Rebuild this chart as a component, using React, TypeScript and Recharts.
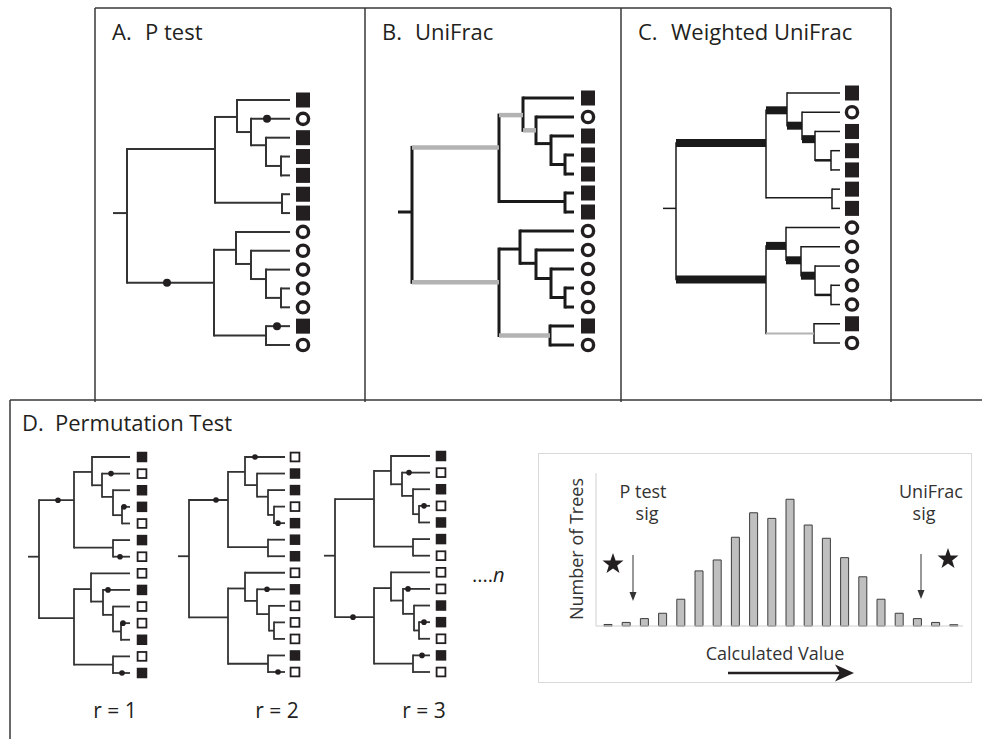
import React from "react";
import { Bar, BarChart, ComposedChart, ReferenceLine, Scatter, XAxis, YAxis } from "recharts";

const FONT = '"Open Sans", "Noto Sans", Arial, sans-serif';
const INK = "#231f20";
const LINE = "#333333";
const GRAY = "#b3b3b3";

// topology shared by every tree in the figure
const INTERNAL_NODES = ["root", "T", "S1", "S1a", "S1b", "S1c", "P1", "B", "S2", "S2a", "S2b", "S2c", "P2"];
const NODE_CHILDREN = [
  ["T", "B"], ["S1", "P1"], ["L0", "S1a"], ["L1", "S1b"], ["L2", "S1c"], ["L3", "L4"], ["L5", "L6"],
  ["S2", "P2"], ["L7", "S2a"], ["L8", "S2b"], ["L9", "S2c"], ["L10", "L11"], ["L12", "L13"],
];
// row of each internal node, in leaf units (leaf 0 on top)
const NODE_ROWS = [6.0, 2.6, 0.9, 1.7, 2.4, 3.5, 5.45, 9.7, 7.95, 8.7, 9.5, 10.5, 12.5];

// branch depths: stub start, the internal nodes in order, then the tips
const DEPTH_A = [-14, 0, 88, 110, 124, 139, 154, 155, 87, 109, 124, 139, 154, 139, 163];
const DEPTH_B = [-14, 0, 87, 111, 124, 139, 153, 153, 87, 108, 124, 139, 153, 138, 162];
const DEPTH_C = [-13, 0, 90, 111, 126, 139, 155, 156, 90, 110, 125, 139, 155, 138, 164];
const DEPTH_R1 = [-11, 0, 35, 53, 63, 74, 83, 74, 35, 52, 64, 74, 82, 74, 91];
const DEPTH_R2 = [-11, 0, 39, 56, 68, 79, 85, 79, 39, 56, 68, 80, 85, 79, 96];
const DEPTH_R3 = [-11, 0, 39, 56, 67, 78, 84, 78, 39, 56, 68, 79, 84, 78, 95];

// leaf states
const LEAVES_ABC = ["sq", "ring", "sq", "sq", "sq", "sq", "sq", "ring", "ring", "ring", "ring", "ring", "sq", "ring"];
const LEAVES_R1 = [1, 0, 1, 1, 0, 1, 0, 0, 1, 0, 0, 1, 0, 1];
const LEAVES_R2 = [0, 1, 1, 0, 1, 1, 1, 0, 1, 0, 0, 0, 1, 0];
const LEAVES_R3 = [1, 0, 1, 0, 1, 1, 0, 0, 0, 1, 1, 0, 1, 0];

// state changes: [branch leading to node, depth]
const CHANGES_A: [string, number][] = [["B", 40], ["L1", 140], ["L12", 150]];
const CHANGES_R1: [string, number][] = [["T", 19], ["L1", 72], ["L3", 85], ["L6", 81], ["L8", 69], ["L10", 84], ["L13", 83]];
const CHANGES_R2: [string, number][] = [["T", 27], ["L0", 66], ["L4", 89], ["L8", 78], ["L13", 89]];
const CHANGES_R3: [string, number][] = [["B", 18], ["L1", 74], ["L3", 89], ["L8", 73], ["L10", 89], ["L12", 87]];

// branches shared / weighted
const UNIFRAC_UNSHARED = ["root-T", "root-B", "T-S1", "S1-S1a", "B-P2"];
const WEIGHTED_HEAVY = ["root-T", "root-B", "T-S1", "S1-S1a", "S1a-S1b", "B-S2", "S2-S2a", "S2a-S2b"];
const WEIGHTED_MEDIUM = ["S1b-S1c", "S2b-S2c"];
const WEIGHTED_LIGHT = ["B-P2"];

// permutation histogram
const BINS = ["1", "2", "3", "4", "5", "6", "7", "8", "9", "10", "11", "12", "13", "14", "15", "16", "17", "18", "19", "20"];
const TREE_COUNTS = [0.6, 1.4, 2.9, 5.0, 10.5, 21.6, 25.9, 34.8, 44.4, 42.2, 49.7, 39.6, 34.4, 26.8, 19.3, 10.5, 5.0, 2.9, 1.4, 0.5];
const COUNT_TICKS = [0, 10, 20, 30, 40, 50, 60];

type Seg = { key: string; x1: number; x2: number; y1: number; y2: number };
type EdgeStyle = { stroke: string; width: number };

function layoutTree(depths: number[]) {
  const x: Record<string, number> = {};
  const y: Record<string, number> = {};
  const tip = depths[depths.length - 1];
  INTERNAL_NODES.forEach((n, i) => {
    x[n] = depths[i + 1];
    y[n] = NODE_ROWS[i];
  });
  for (let i = 0; i < 14; i++) {
    x["L" + i] = tip;
    y["L" + i] = i;
  }
  const verticals: Seg[] = [];
  const horizontals: Seg[] = [{ key: "stub", x1: depths[0], x2: x.root, y1: y.root, y2: y.root }];
  INTERNAL_NODES.forEach((n, i) => {
    const kids = NODE_CHILDREN[i];
    verticals.push({ key: n, x1: x[n], x2: x[n], y1: y[kids[0]], y2: y[kids[1]] });
    kids.forEach((k) => horizontals.push({ key: `${n}-${k}`, x1: x[n], x2: x[k], y1: y[k], y2: y[k] }));
  });
  return { y, verticals, horizontals, tip };
}

type TreeProps = {
  depths: number[];
  leaves: (string | number)[];
  changes?: [string, number][];
  left: number;
  top: number;
  width: number;
  height: number;
  gap: number;
  dotR?: number;
  leafShape: (p: any) => React.ReactElement;
  vStyle: EdgeStyle;
  hStyle: (key: string) => EdgeStyle;
};

function TreeChart({ depths, leaves, changes = [], left, top, width, height, gap, dotR = 3, leafShape, vStyle, hStyle }: TreeProps) {
  const { y, verticals, horizontals, tip } = layoutTree(depths);
  const m = 12;
  const markX = tip + gap;
  const leafData = leaves.map((mark, i) => ({ x: markX, y: i, mark }));
  const dotData = changes.map(([on, d]) => ({ x: d, y: y[on] }));

  return (
    <div style={{ position: "absolute", left: left - m, top: top - m }}>
      <ComposedChart width={width + 2 * m} height={height + 2 * m} margin={{ top: m, right: m, bottom: m, left: m }}>
        <XAxis type="number" dataKey="x" domain={[depths[0], markX]} hide />
        <YAxis type="number" dataKey="y" domain={[0, 13]} reversed hide />
        {verticals.map((s) => (
          <ReferenceLine
            key={"v" + s.key}
            segment={[{ x: s.x1, y: s.y1 }, { x: s.x2, y: s.y2 }]}
            stroke={vStyle.stroke}
            strokeWidth={vStyle.width}
            strokeLinecap="square"
            ifOverflow="visible"
          />
        ))}
        {horizontals.map((s) => {
          const st = hStyle(s.key);
          return (
            <ReferenceLine
              key={"h" + s.key}
              segment={[{ x: s.x1, y: s.y1 }, { x: s.x2, y: s.y2 }]}
              stroke={st.stroke}
              strokeWidth={st.width}
              ifOverflow="visible"
            />
          );
        })}
        <Scatter
          data={dotData}
          isAnimationActive={false}
          shape={(p: any) => <circle cx={p.cx} cy={p.cy} r={dotR} fill={INK} />}
        />
        <Scatter data={leafData} isAnimationActive={false} shape={leafShape} />
      </ComposedChart>
    </div>
  );
}

const bigLeaf = (p: any) => {
  const { cx, cy, payload } = p;
  if (payload.mark === "sq") return <rect x={cx - 7} y={cy - 7.5} width={14} height={15} fill={INK} />;
  return <circle cx={cx} cy={cy} r={5.6} fill="#fff" stroke={INK} strokeWidth={3.4} />;
};

const smallLeaf = (p: any) => {
  const { cx, cy, payload } = p;
  return payload.mark === 1 ? (
    <rect x={cx - 5.25} y={cy - 5.25} width={10.5} height={10.5} fill={INK} />
  ) : (
    <rect x={cx - 4.4} y={cy - 4.4} width={8.8} height={8.8} fill="#fff" stroke={INK} strokeWidth={1.8} />
  );
};

const plainStyle = (w: number) => () => ({ stroke: LINE, width: w });
const unifracStyle = (key: string) =>
  UNIFRAC_UNSHARED.includes(key) ? { stroke: GRAY, width: 4.5 } : { stroke: "#1a1a1a", width: 3 };
const weightedStyle = (key: string) => {
  if (WEIGHTED_HEAVY.includes(key)) return { stroke: "#1a1a1a", width: 8 };
  if (WEIGHTED_MEDIUM.includes(key)) return { stroke: "#1a1a1a", width: 2.5 };
  if (WEIGHTED_LIGHT.includes(key)) return { stroke: GRAY, width: 2 };
  return { stroke: "#1a1a1a", width: 1.5 };
};

function starPoints(cx: number, cy: number, R: number, r: number) {
  const pts: string[] = [];
  for (let i = 0; i < 10; i++) {
    const a = -Math.PI / 2 + (i * Math.PI) / 5;
    const rad = i % 2 === 0 ? R : r;
    pts.push(`${(cx + rad * Math.cos(a)).toFixed(1)},${(cy + rad * Math.sin(a)).toFixed(1)}`);
  }
  return pts.join(" ");
}

export default function App() {
  const histogram = BINS.map((bin, i) => ({ bin, trees: TREE_COUNTS[i] }));
  const txt = { fontFamily: FONT, fill: INK };

  return (
    <div style={{ position: "absolute", left: 0, top: 0, width: 982, height: 739, background: "#fff", overflow: "hidden" }}>
      <svg width={982} height={739} style={{ position: "absolute", left: 0, top: 0 }}>
        <path d="M95 8 H891 M95 8 V402 M365 8 V402 M621 8 V402 M891 8 V402" stroke="#3a3a3a" strokeWidth={1.5} fill="none" />
        <path d="M10 400 H982 M10 400 V739" stroke="#3a3a3a" strokeWidth={1.5} fill="none" />

        <g {...txt} fontSize={22}>
          <text x={112} y={40}>A.</text>
          <text x={145} y={40}>P test</text>
          <text x={382} y={40}>B.</text>
          <text x={415} y={40}>UniFrac</text>
          <text x={638} y={40}>C.</text>
          <text x={671} y={40}>Weighted UniFrac</text>
          <text x={22} y={431}>D.</text>
          <text x={55} y={431}>Permutation Test</text>
        </g>

        <g {...txt} fontSize={21} textAnchor="middle">
          <text x={115} y={718}>r = 1</text>
          <text x={277} y={718}>r = 2</text>
          <text x={424} y={718}>r = 3</text>
        </g>
        <text x={472} y={582} {...txt} fontSize={20}>
          ....<tspan fontStyle="italic">n</tspan>
        </text>

        {/* histogram inset annotations */}
        <rect x={538.5} y={453.5} width={433} height={229} fill="none" stroke="#d9d9d9" />
        <g {...txt} fontSize={18} fill="#333">
          <text transform="translate(583,549) rotate(-90)" textAnchor="middle">Number of Trees</text>
          <text x={643} y={498} textAnchor="middle">P test</text>
          <text x={647} y={520} textAnchor="middle">sig</text>
          <text x={931} y={498} textAnchor="middle">UniFrac</text>
          <text x={924} y={520} textAnchor="middle">sig</text>
          <text x={775} y={660} textAnchor="middle">Calculated Value</text>
        </g>
        <polygon points={starPoints(613, 564, 11, 4.4)} fill={INK} />
        <polygon points={starPoints(948, 559, 11, 4.4)} fill={INK} />
        <line x1={633} y1={555} x2={633} y2={594} stroke="#333" strokeWidth={1} />
        <polygon points="633,601 629.5,592 636.5,592" fill="#333" />
        <line x1={921} y1={554} x2={921} y2={592} stroke="#333" strokeWidth={1} />
        <polygon points="921,599 917.5,590 924.5,590" fill="#333" />
        <line x1={728} y1={673} x2={842} y2={673} stroke={INK} strokeWidth={2.5} />
        <polygon points="854,673 835,664.5 840,673 835,681.5" fill={INK} />
      </svg>

      <TreeChart depths={DEPTH_A} leaves={LEAVES_ABC} changes={CHANGES_A} left={113} top={100} width={190} height={245}
        gap={13} dotR={4} leafShape={bigLeaf} vStyle={{ stroke: LINE, width: 2 }} hStyle={plainStyle(2)} />
      <TreeChart depths={DEPTH_B} leaves={LEAVES_ABC} left={398} top={98} width={190} height={247}
        gap={14} leafShape={bigLeaf} vStyle={{ stroke: "#1a1a1a", width: 3 }} hStyle={unifracStyle} />
      <TreeChart depths={DEPTH_C} leaves={LEAVES_ABC} left={663} top={93} width={189} height={250}
        gap={12} leafShape={bigLeaf} vStyle={{ stroke: "#1a1a1a", width: 1.5 }} hStyle={weightedStyle} />

      <TreeChart depths={DEPTH_R1} leaves={LEAVES_R1} changes={CHANGES_R1} left={28} top={457} width={114} height={216}
        gap={12} dotR={2.8} leafShape={smallLeaf} vStyle={{ stroke: LINE, width: 1.8 }} hStyle={plainStyle(1.8)} />
      <TreeChart depths={DEPTH_R2} leaves={LEAVES_R2} changes={CHANGES_R2} left={178} top={457} width={117} height={215}
        gap={10} dotR={2.8} leafShape={smallLeaf} vStyle={{ stroke: LINE, width: 1.8 }} hStyle={plainStyle(1.8)} />
      <TreeChart depths={DEPTH_R3} leaves={LEAVES_R3} changes={CHANGES_R3} left={324} top={456} width={117} height={216}
        gap={11} dotR={2.8} leafShape={smallLeaf} vStyle={{ stroke: LINE, width: 1.8 }} hStyle={plainStyle(1.8)} />

      <div style={{ position: "absolute", left: 539, top: 454 }}>
        <BarChart width={432} height={228} data={histogram} margin={{ top: 19, right: 8, bottom: 26, left: 0 }}>
          <XAxis dataKey="bin" tick={false} tickLine={false} axisLine={{ stroke: "#cfcfcf" }} height={30} padding={{ left: 3, right: 0 }} />
          <YAxis
            domain={[0, 60]}
            ticks={COUNT_TICKS}
            width={57}
            tick={false}
            tickSize={5}
            tickLine={{ stroke: "#cfcfcf" }}
            axisLine={{ stroke: "#cfcfcf" }}
          />
          <Bar dataKey="trees" fill="#bfbfbf" stroke="#3d3d3d" strokeWidth={1} barSize={8} isAnimationActive={false} />
        </BarChart>
      </div>
    </div>
  );
}
